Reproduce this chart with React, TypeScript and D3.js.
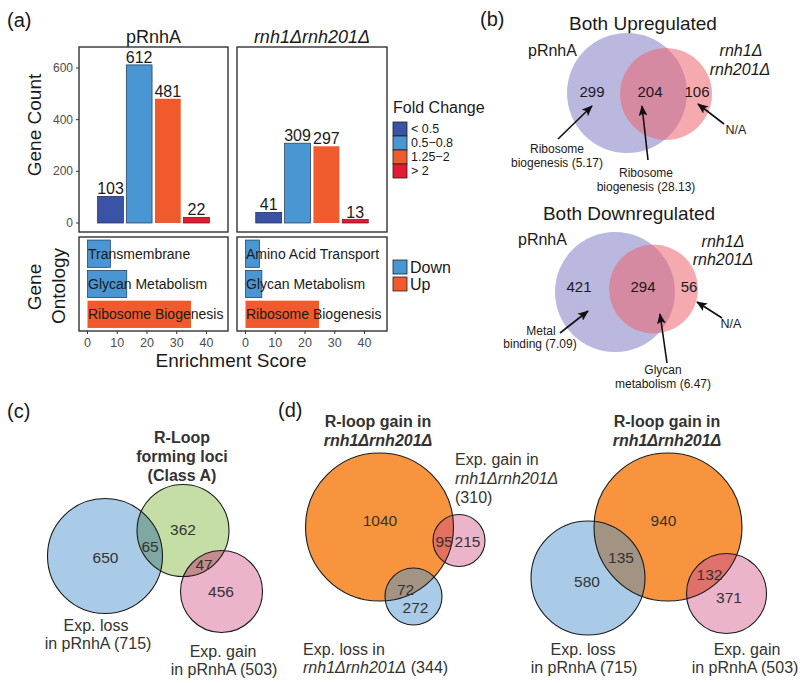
import React from "react";
import * as d3 from "d3";

// ---------------- data ----------------
const foldLevels = ["< 0.5", "0.5\u22120.8", "1.25\u22122", "> 2"];
const countsPRnhA = [103, 612, 481, 22];
const countsRnh = [41, 309, 297, 13];
const countTicks = [0, 200, 400, 600];
const goTermsPRnhA = ["Transmembrane", "Glycan Metabolism", "Ribosome Biogenesis"];
const goScoresPRnhA = [7.7, 13.2, 34.8];
const goTermsRnh = ["Amino Acid Transport", "Glycan Metabolism", "Ribosome Biogenesis"];
const goScoresRnh = [4.7, 5.5, 24.7];
const goDirection = ["Down", "Down", "Up"];
const scoreTicks = [0, 10, 20, 30, 40];
const directions = ["Down", "Up"];
const upCounts = [299, 204, 106];
const downCounts = [421, 294, 56];
const classACounts = [650, 65, 362, 47, 456];
const rnhGainCounts = [1040, 95, 215, 72, 272];
const pRnhAGainCounts = [940, 135, 580, 132, 371];

// ---------------- style ----------------
const FONT = "'Liberation Sans', Arial, Helvetica, sans-serif";
const foldColors = ["#3A53A4", "#4A96D2", "#F15A2C", "#E31B30"];
const foldStroke = ["#1d2550", "#1d3550", "none", "#5a1010"];
const dirColor: Record<string, string> = { Down: "#4A96D2", Up: "#F15A2C" };
const TXT = "#1a1a1a";
const VTXT = "#333333";

type Circ = { cx: number; cy: number; r: number; fill: string };

function Venn({ id, circles, overlaps }: { id: string; circles: Circ[]; overlaps: { a: number; b: number; fill: string }[] }) {
  return (
    <g>
      <defs>
        {circles.map((c, i) => (
          <clipPath id={`${id}-clip-${i}`} key={i}>
            <circle cx={c.cx} cy={c.cy} r={c.r} />
          </clipPath>
        ))}
      </defs>
      {circles.map((c, i) => (
        <circle key={"f" + i} cx={c.cx} cy={c.cy} r={c.r} fill={c.fill} />
      ))}
      {overlaps.map((o, i) => {
        const b = circles[o.b];
        return <circle key={"o" + i} cx={b.cx} cy={b.cy} r={b.r} fill={o.fill} clipPath={`url(#${id}-clip-${o.a})`} />;
      })}
      {circles.map((c, i) => (
        <circle key={"s" + i} cx={c.cx} cy={c.cy} r={c.r} fill="none" stroke="#1a1a1a" strokeWidth={1.1} />
      ))}
    </g>
  );
}

function BarPanel({ x0, x1, counts }: { x0: number; x1: number; counts: number[] }) {
  const x = d3.scaleBand<string>().domain(foldLevels).range([x0, x1]).paddingInner(0.1).paddingOuter(0.65);
  const y = d3.scaleLinear().domain([0, 600]).range([223, 68]);
  return (
    <g>
      <rect x={x0} y={47} width={x1 - x0} height={185} fill="white" />
      {counts.map((v, i) => (
        <g key={i}>
          <rect
            x={x(foldLevels[i])!}
            y={y(v)}
            width={x.bandwidth()}
            height={y(0) - y(v)}
            fill={foldColors[i]}
            stroke={foldStroke[i]}
            strokeWidth={0.7}
          />
          <text x={x(foldLevels[i])! + x.bandwidth() / 2} y={y(v) - 2} textAnchor="middle" fontSize={16} fill={TXT}>
            {v}
          </text>
        </g>
      ))}
      <rect x={x0} y={47} width={x1 - x0} height={185} fill="none" stroke="#333" strokeWidth={1.4} />
    </g>
  );
}

function GoPanel({ x0, x1, terms, scores }: { x0: number; x1: number; terms: string[]; scores: number[] }) {
  const y = d3.scaleBand<string>().domain(terms).range([237, 331]).paddingInner(0.1).paddingOuter(0.1);
  const x = d3.scaleLinear().domain([0, 40]).range([x0 + 8.5, x0 + 8.5 + 119]);
  return (
    <g>
      {scores.map((v, i) => (
        <g key={i}>
          <rect
            x={x(0)}
            y={y(terms[i])!}
            width={x(v) - x(0)}
            height={y.bandwidth()}
            fill={dirColor[goDirection[i]]}
            stroke={goDirection[i] === "Down" ? "#1d3550" : "none"}
            strokeWidth={0.7}
          />
          <text x={x(0) + 0.5} y={y(terms[i])! + y.bandwidth() / 2 + 5} fontSize={14} fill={TXT}>
            {terms[i]}
          </text>
        </g>
      ))}
      <rect x={x0} y={237} width={x1 - x0} height={94} fill="none" stroke="#333" strokeWidth={1.4} />
      {scoreTicks.map((t) => (
        <g key={t}>
          <line x1={x(t)} x2={x(t)} y1={331} y2={334} stroke="#333" strokeWidth={1} />
          <text x={x(t)} y={347} textAnchor="middle" fontSize={12.5} fill="#4d4d4d">
            {t}
          </text>
        </g>
      ))}
    </g>
  );
}

function Arrow({ x1, y1, x2, y2 }: { x1: number; y1: number; x2: number; y2: number }) {
  return <line x1={x1} y1={y1} x2={x2} y2={y2} stroke="#111" strokeWidth={1.6} markerEnd="url(#arrowHead)" />;
}

export default function App() {
  const yCount = d3.scaleLinear().domain([0, 600]).range([223, 68]);
  const italicDelta = "rnh1\u0394rnh201\u0394";

  const cCircles: Circ[] = [
    { cx: 105, cy: 556, r: 57.5, fill: "#A9CBE8" },
    { cx: 183, cy: 530.5, r: 46, fill: "#C4DEA6" },
    { cx: 221.5, cy: 591.5, r: 41, fill: "#ECB4CA" },
  ];
  const dLeft: Circ[] = [
    { cx: 379.5, cy: 527, r: 74, fill: "#F7943D" },
    { cx: 459, cy: 540.5, r: 26, fill: "#ECB4CA" },
    { cx: 413.5, cy: 596.5, r: 28.5, fill: "#A9CBE8" },
  ];
  const dRight: Circ[] = [
    { cx: 668, cy: 527, r: 74, fill: "#F7943D" },
    { cx: 588, cy: 578, r: 57, fill: "#A9CBE8" },
    { cx: 726.5, cy: 593.5, r: 40, fill: "#ECB4CA" },
  ];

  return (
    <svg
      width={800}
      height={683}
      viewBox="0 0 800 683"
      style={{ position: "absolute", left: 0, top: 0, background: "white", fontFamily: FONT }}
    >
      <defs>
        <marker id="arrowHead" markerUnits="userSpaceOnUse" markerWidth={11} markerHeight={9} refX={10} refY={4.5} orient="auto">
          <path d="M0,0 L11,4.5 L0,9 L2.5,4.5 z" fill="#111" />
        </marker>
      </defs>
      <rect x={0} y={0} width={800} height={683} fill="white" />

      {/* ---------------- (a) ---------------- */}
      <text x={7} y={27} fontSize={20} fill={TXT}>(a)</text>
      <text x={153.5} y={43} textAnchor="middle" fontSize={18} fill={TXT}>pRnhA</text>
      <text x={312} y={43} textAnchor="middle" fontSize={18} fontStyle="italic" fill={TXT}>{italicDelta}</text>
      <BarPanel x0={79} x1={228} counts={countsPRnhA} />
      <BarPanel x0={237} x1={387} counts={countsRnh} />
      {countTicks.map((t) => (
        <g key={t}>
          <line x1={76} x2={79} y1={yCount(t)} y2={yCount(t)} stroke="#333" strokeWidth={1} />
          <text x={73} y={yCount(t) + 4} textAnchor="end" fontSize={12} fill="#4d4d4d">{t}</text>
        </g>
      ))}
      <text transform="translate(41,125) rotate(-90)" textAnchor="middle" fontSize={19} fill={TXT}>Gene Count</text>
      <text transform="translate(41,287) rotate(-90)" textAnchor="middle" fontSize={19} fill={TXT}>Gene</text>
      <text transform="translate(65,286) rotate(-90)" textAnchor="middle" fontSize={19} fill={TXT}>Ontology</text>
      <GoPanel x0={79} x1={228} terms={goTermsPRnhA} scores={goScoresPRnhA} />
      <GoPanel x0={237} x1={387} terms={goTermsRnh} scores={goScoresRnh} />
      <text x={231} y={367} textAnchor="middle" fontSize={19} fill={TXT}>Enrichment Score</text>

      {/* legends */}
      <text x={393} y={113} fontSize={16} fill={TXT}>Fold Change</text>
      {foldLevels.map((l, i) => (
        <g key={l}>
          <rect x={393} y={122 + i * 14} width={14} height={14} fill={foldColors[i]} stroke="#222" strokeWidth={0.8} />
          <text x={411} y={133 + i * 14} fontSize={12.5} fill={TXT}>{l}</text>
        </g>
      ))}
      {directions.map((d, i) => (
        <g key={d}>
          <rect x={393} y={260 + i * 17} width={14} height={14} fill={dirColor[d]} stroke="#222" strokeWidth={0.8} />
          <text x={410} y={273 + i * 17} fontSize={16} fill={TXT}>{d}</text>
        </g>
      ))}

      {/* ---------------- (b) ---------------- */}
      <text x={480} y={26} fontSize={20} fill={TXT}>(b)</text>
      <text x={643} y={30} textAnchor="middle" fontSize={19} fill={TXT}>Both Upregulated</text>
      <circle cx={627} cy={93} r={60} fill="#BAB8DE" />
      <circle cx={666} cy={94} r={46} fill="#EC6470" fillOpacity={0.55} />
      <text x={528} y={56} fontSize={16} fill={TXT}>pRnhA</text>
      <text x={741} y={56} textAnchor="middle" fontSize={16} fontStyle="italic" fill={TXT}>rnh1{"\u0394"}</text>
      <text x={740} y={75} textAnchor="middle" fontSize={16} fontStyle="italic" fill={TXT}>rnh201{"\u0394"}</text>
      {[592, 650, 697].map((x, i) => (
        <text key={i} x={x} y={97} textAnchor="middle" fontSize={15} fill={TXT}>{upCounts[i]}</text>
      ))}
      <Arrow x1={558} y1={139} x2={592} y2={106} />
      <Arrow x1={648} y1={160} x2={642} y2={106} />
      <Arrow x1={724} y1={124} x2={698} y2={104} />
      <text x={557} y={153} textAnchor="middle" fontSize={12} fill={TXT}>Ribosome</text>
      <text x={557} y={167} textAnchor="middle" fontSize={12} fill={TXT}>biogenesis (5.17)</text>
      <text x={646} y={177} textAnchor="middle" fontSize={12} fill={TXT}>Ribosome</text>
      <text x={646} y={191} textAnchor="middle" fontSize={12} fill={TXT}>biogenesis (28.13)</text>
      <text x={736} y={134} textAnchor="middle" fontSize={12.5} fill={TXT}>N/A</text>

      <text x={629} y={220} textAnchor="middle" fontSize={19} fill={TXT}>Both Downregulated</text>
      <circle cx={615} cy={292} r={60} fill="#BAB8DE" />
      <circle cx={653.5} cy={289} r={44.5} fill="#EC6470" fillOpacity={0.55} />
      <text x={518} y={245} fontSize={16} fill={TXT}>pRnhA</text>
      <text x={723} y={247} textAnchor="middle" fontSize={16} fontStyle="italic" fill={TXT}>rnh1{"\u0394"}</text>
      <text x={723} y={265} textAnchor="middle" fontSize={16} fontStyle="italic" fill={TXT}>rnh201{"\u0394"}</text>
      {[579, 643, 689].map((x, i) => (
        <text key={i} x={x} y={292} textAnchor="middle" fontSize={15} fill={TXT}>{downCounts[i]}</text>
      ))}
      <Arrow x1={560} y1={333} x2={588} y2={311} />
      <Arrow x1={667} y1={363} x2={660} y2={314} />
      <Arrow x1={722} y1={318} x2={697} y2={302} />
      <text x={541} y={335} textAnchor="middle" fontSize={12} fill={TXT}>Metal</text>
      <text x={540} y={348} textAnchor="middle" fontSize={12} fill={TXT}>binding (7.09)</text>
      <text x={663} y={374} textAnchor="middle" fontSize={12} fill={TXT}>Glycan</text>
      <text x={663} y={388} textAnchor="middle" fontSize={12} fill={TXT}>metabolism (6.47)</text>
      <text x={731} y={328} textAnchor="middle" fontSize={12.5} fill={TXT}>N/A</text>

      {/* ---------------- (c) ---------------- */}
      <text x={7} y={418} fontSize={20} fill={TXT}>(c)</text>
      <text x={182} y={443} textAnchor="middle" fontSize={16} fontWeight="bold" fill={VTXT}>R-Loop</text>
      <text x={182} y={462} textAnchor="middle" fontSize={16} fontWeight="bold" fill={VTXT}>forming loci</text>
      <text x={182} y={481} textAnchor="middle" fontSize={16} fontWeight="bold" fill={VTXT}>(Class A)</text>
      <Venn
        id="vc"
        circles={cCircles}
        overlaps={[
          { a: 0, b: 1, fill: "#7FA8A3" },
          { a: 1, b: 2, fill: "#C28B8C" },
        ]}
      />
      {[
        [105.5, 563],
        [150, 552],
        [183, 535],
        [204, 570],
        [221, 597],
      ].map(([x, y], i) => (
        <text key={i} x={x} y={y} textAnchor="middle" fontSize={15.5} fill={VTXT}>{classACounts[i]}</text>
      ))}
      <text x={96} y={631} textAnchor="middle" fontSize={16} fill={VTXT}>Exp. loss</text>
      <text x={98} y={649} textAnchor="middle" fontSize={16} fill={VTXT}>in pRnhA (715)</text>
      <text x={223} y={657} textAnchor="middle" fontSize={16} fill={VTXT}>Exp. gain</text>
      <text x={224} y={675} textAnchor="middle" fontSize={16} fill={VTXT}>in pRnhA (503)</text>

      {/* ---------------- (d) ---------------- */}
      <text x={278} y={417} fontSize={20} fill={TXT}>(d)</text>
      <text x={378} y={427} textAnchor="middle" fontSize={16} fontWeight="bold" fill={VTXT}>R-loop gain in</text>
      <text x={378} y={446} textAnchor="middle" fontSize={16} fontWeight="bold" fontStyle="italic" fill={VTXT}>{italicDelta}</text>
      <Venn
        id="vdl"
        circles={dLeft}
        overlaps={[
          { a: 0, b: 1, fill: "#E4705E" },
          { a: 0, b: 2, fill: "#A29382" },
        ]}
      />
      {[
        [380, 526],
        [444, 547],
        [467.5, 547],
        [405.5, 595],
        [415.5, 613],
      ].map(([x, y], i) => (
        <text key={i} x={x} y={y} textAnchor="middle" fontSize={15.5} fill={VTXT}>{rnhGainCounts[i]}</text>
      ))}
      <text x={455} y={465} fontSize={16} fill={VTXT}>Exp. gain in</text>
      <text x={455} y={484} fontSize={16} fontStyle="italic" fill={VTXT}>{italicDelta}</text>
      <text x={455} y={503} fontSize={16} fill={VTXT}>(310)</text>
      <text x={303} y={655} fontSize={16} fill={VTXT}>Exp. loss in</text>
      <text x={303} y={673} fontSize={16} fill={VTXT}>
        <tspan fontStyle="italic">{italicDelta}</tspan>
        <tspan> (344)</tspan>
      </text>

      <text x={667} y={427} textAnchor="middle" fontSize={16} fontWeight="bold" fill={VTXT}>R-loop gain in</text>
      <text x={667} y={446} textAnchor="middle" fontSize={16} fontWeight="bold" fontStyle="italic" fill={VTXT}>{italicDelta}</text>
      <Venn
        id="vdr"
        circles={dRight}
        overlaps={[
          { a: 0, b: 1, fill: "#A29382" },
          { a: 0, b: 2, fill: "#E0706A" },
        ]}
      />
      {[
        [663.5, 526],
        [621, 563],
        [587, 587],
        [709.5, 580],
        [729, 603],
      ].map(([x, y], i) => (
        <text key={i} x={x} y={y} textAnchor="middle" fontSize={15.5} fill={VTXT}>{pRnhAGainCounts[i]}</text>
      ))}
      <text x={583} y={655} textAnchor="middle" fontSize={16} fill={VTXT}>Exp. loss</text>
      <text x={584} y={673} textAnchor="middle" fontSize={16} fill={VTXT}>in pRnhA (715)</text>
      <text x={747} y={655} textAnchor="middle" fontSize={16} fill={VTXT}>Exp. gain</text>
      <text x={745} y={673} textAnchor="middle" fontSize={16} fill={VTXT}>in pRnhA (503)</text>
    </svg>
  );
}
